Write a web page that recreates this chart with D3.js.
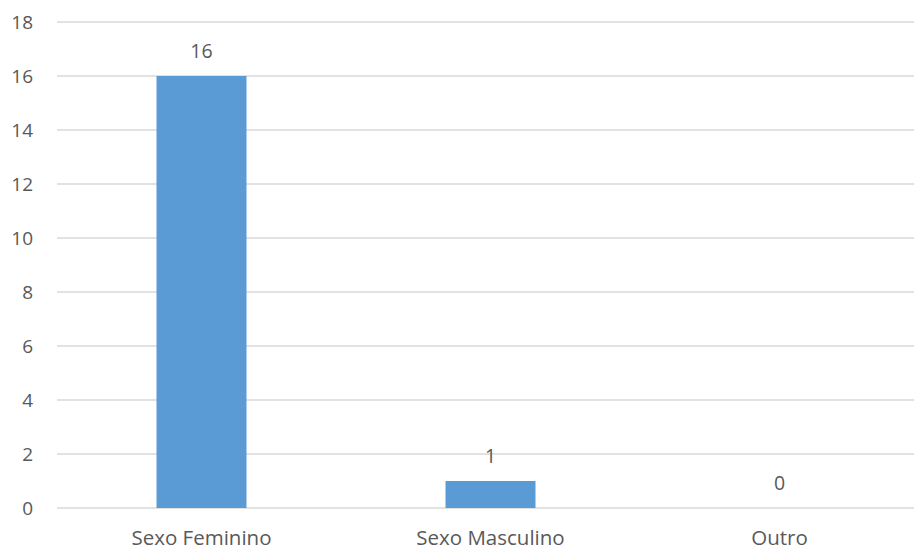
<!DOCTYPE html>
<html><head><meta charset="utf-8">
<script src="https://cdn.jsdelivr.net/npm/d3@7"></script>
<style>body{margin:0;background:#fff}svg{display:block}text{font-family:"Open Sans",sans-serif;fill:#595959}</style>
</head><body><svg id="c" width="914" height="547"></svg>
<script>
const categories = ["Sexo Feminino", "Sexo Masculino", "Outro"];
const values = [16, 1, 0];
const yTicks = [0, 2, 4, 6, 8, 10, 12, 14, 16, 18];

const svg = d3.select("#c");
const pLeft = 57, pRight = 924, pTop = 22, pBottom = 508;
const x = d3.scaleBand().domain(categories).range([pLeft, pRight]).paddingInner(0.6886).paddingOuter(0.3443);
const y = d3.scaleLinear().domain([0, 18]).range([pBottom, pTop]);

svg.append("g").selectAll("line").data(yTicks).join("line")
  .attr("x1", pLeft).attr("x2", 914).attr("y1", d => y(d)).attr("y2", d => y(d))
  .attr("stroke", "#d9d9d9").attr("stroke-width", 1.3);

svg.append("g").selectAll("text").data(yTicks).join("text")
  .attr("x", 33).attr("y", d => y(d)).attr("dy", "0.36em").attr("text-anchor", "end")
  .attr("font-size", 19).text(d => d);

svg.append("g").selectAll("rect").data(values).join("rect")
  .attr("x", (d, i) => x(categories[i])).attr("width", x.bandwidth())
  .attr("y", d => y(d)).attr("height", d => y(0) - y(d)).attr("fill", "#5b9bd5");

svg.append("g").selectAll("text").data(values).join("text")
  .attr("x", (d, i) => x(categories[i]) + x.bandwidth() / 2).attr("y", d => y(d) - 18)
  .attr("text-anchor", "middle").attr("font-size", 19.5).text(d => d);

svg.append("g").selectAll("text").data(categories).join("text")
  .attr("x", d => x(d) + x.bandwidth() / 2).attr("y", 545)
  .attr("text-anchor", "middle").attr("font-size", 20.5).text(d => d);
</script></body></html>
